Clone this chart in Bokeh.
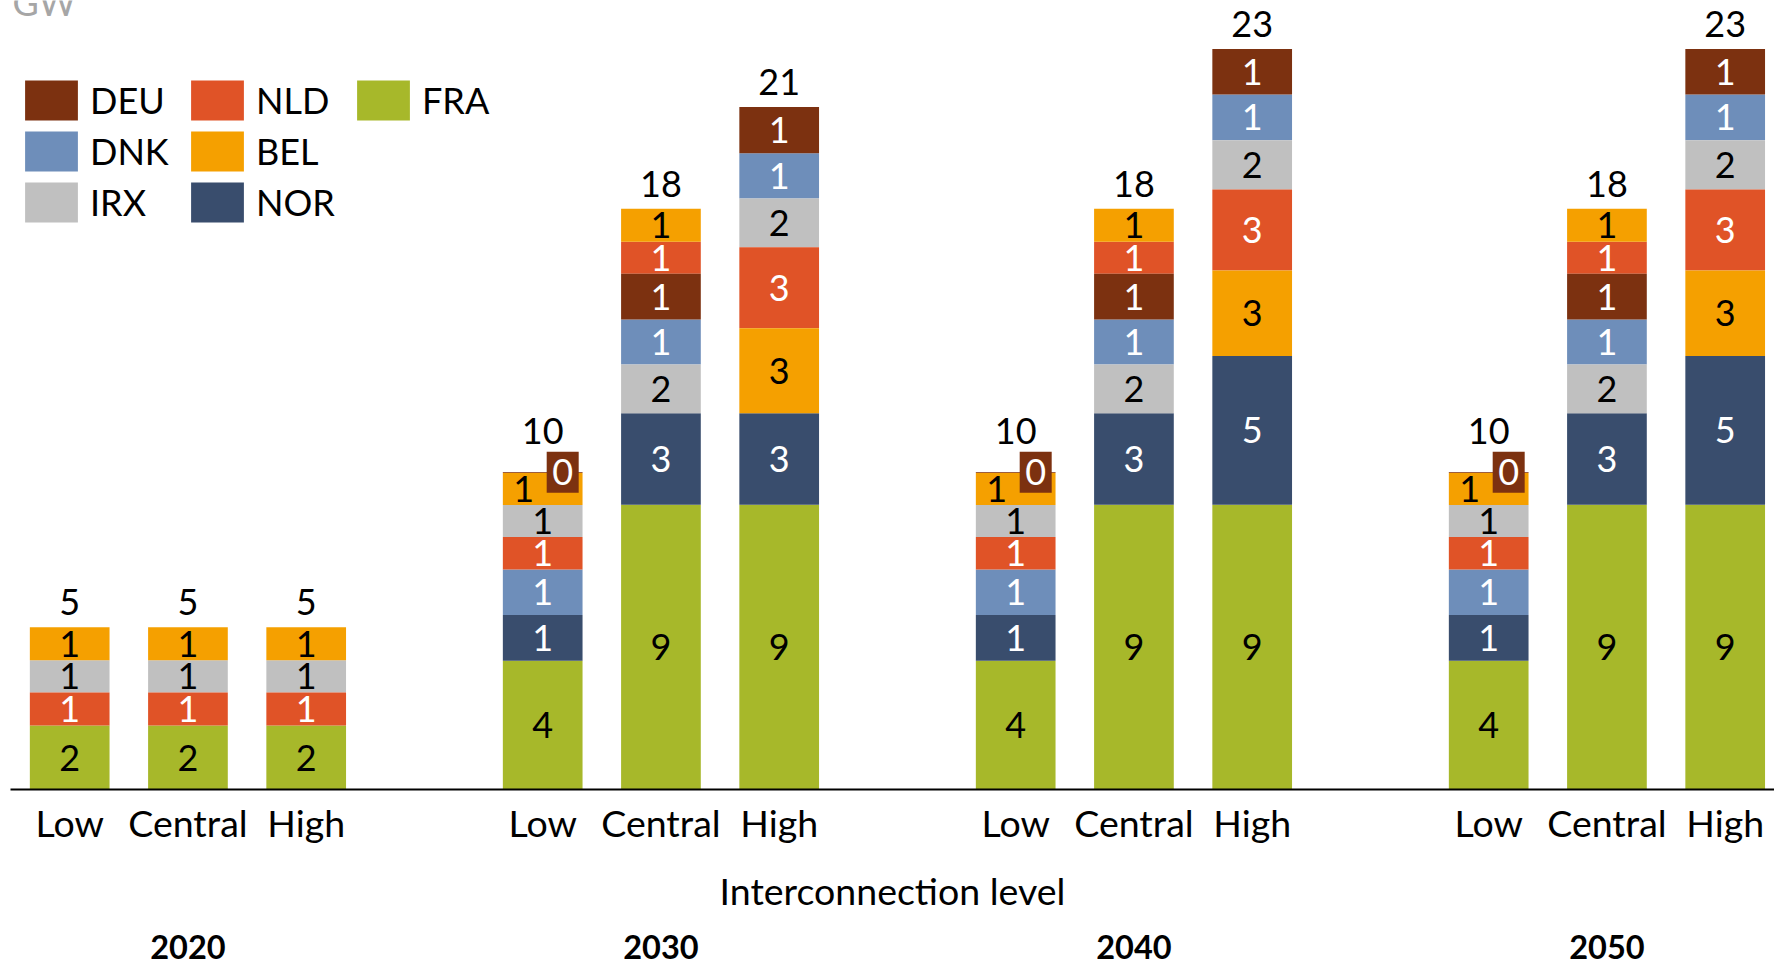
from bokeh.plotting import figure
from bokeh.models import Range1d, FixedTicker, LinearAxis, Legend, LegendItem, ColumnDataSource
from bokeh.core.properties import value
from bokeh.embed import file_html
from bokeh.resources import INLINE

# ---------------- data ----------------
years = ["2020", "2030", "2040", "2050"]
levels = ["Low", "Central", "High"]
legend_order = ["DEU", "DNK", "IRX", "NLD", "BEL", "NOR", "FRA"]

# GW per bar: 2020 L,C,H | 2030 L,C,H | 2040 L,C,H | 2050 L,C,H
FRA = [1.98, 1.98, 1.98, 3.99, 8.82, 8.82, 3.99, 8.82, 8.82, 3.99, 8.82, 8.82]
NOR = [0.00, 0.00, 0.00, 1.41, 2.83, 2.83, 1.41, 2.83, 4.60, 1.41, 2.83, 4.60]
DNK = [0.00, 0.00, 0.00, 1.41, 1.39, 1.40, 1.41, 1.39, 1.42, 1.41, 1.39, 1.42]
IRX = [1.00, 1.00, 1.00, 0.99, 1.51, 1.51, 0.99, 1.51, 1.52, 0.99, 1.51, 1.52]
NLD = [1.02, 1.02, 1.02, 1.01, 0.99, 2.51, 1.01, 0.99, 2.51, 1.01, 0.99, 2.51]
BEL = [1.02, 1.02, 1.02, 1.00, 1.02, 2.63, 1.00, 1.02, 2.65, 1.00, 1.02, 2.65]
DEU = [0.00, 0.00, 0.00, 0.02, 1.42, 1.43, 0.02, 1.42, 1.41, 0.02, 1.42, 1.41]

# stacking order (bottom -> top) used by each bar
ORDER_LOW = ["FRA", "NOR", "DNK", "NLD", "IRX", "BEL", "DEU"]
ORDER_CENTRAL = ["FRA", "NOR", "IRX", "DNK", "DEU", "NLD", "BEL"]
ORDER_HIGH = ["FRA", "NOR", "BEL", "NLD", "IRX", "DNK", "DEU"]
bar_orders = [ORDER_LOW] * 3 + [ORDER_LOW, ORDER_CENTRAL, ORDER_HIGH] * 3

# ---------------- styles ----------------
colors = {"DEU": "#7C3110", "NLD": "#E05327", "FRA": "#A7B82A", "DNK": "#6E8EBA",
          "BEL": "#F5A000", "IRX": "#C0C0C0", "NOR": "#394D6D"}
label_colors = {"DEU": "white", "NLD": "white", "DNK": "white", "NOR": "white",
                "FRA": "black", "IRX": "black", "BEL": "black"}
FONT = "Lato"
PX_PER_SLOT = 118.25
BAR_W = 0.674

values = {"FRA": FRA, "NOR": NOR, "DNK": DNK, "IRX": IRX, "NLD": NLD, "BEL": BEL, "DEU": DEU}
GROUP = len(levels) + 1
xs = [g * GROUP + l for g in range(len(years)) for l in range(len(levels))]
n = len(xs)

bottoms = {c: [0.0] * n for c in values}
totals = [0.0] * n
for i in range(n):
    base = 0.0
    for c in bar_orders[i]:
        bottoms[c][i] = base
        base += values[c][i]
    totals[i] = base

p = figure(width=1774, height=967, output_backend="svg", toolbar_location=None,
           x_range=Range1d(-0.5006, 14.417), y_range=Range1d(0, 24.43),
           y_axis_location=None, min_border_left=10, min_border_right=0,
           min_border_top=0, min_border_bottom=178)
p.outline_line_color = None
p.grid.visible = False

renderers = {}
for c in values:
    src = ColumnDataSource(dict(x=xs, bottom=bottoms[c],
                                top=[b + v for b, v in zip(bottoms[c], values[c])]))
    renderers[c] = p.vbar(x="x", bottom="bottom", top="top", width=BAR_W, source=src,
                          fill_color=colors[c], line_color=None)

# segment labels
lx, ly, lt, lc, lxo = [], [], [], [], []
bx, by = [], []
tot_off = []
for i in range(n):
    order = [c for c in bar_orders[i] if values[c][i] > 0]
    zero_top = int(values[order[-1]][i] + 0.5) == 0
    tot_off.append(-41 if zero_top else -25)
    for k, c in enumerate(order):
        v = values[c][i]
        txt = str(int(v + 0.5))
        xo = -19 if (zero_top and k == len(order) - 2) else 0
        if txt == "0":
            bx.append(xs[i] + 20 / PX_PER_SLOT)
            by.append(bottoms[c][i] + v / 2)
            lx.append(xs[i] + 20 / PX_PER_SLOT)
        else:
            lx.append(xs[i])
        ly.append(bottoms[c][i] + v / 2)
        lt.append(txt)
        lc.append(label_colors[c])
        lxo.append(xo)

p.rect(x=bx, y=by, width=32, height=41, width_units="screen", height_units="screen",
       fill_color=colors["DEU"], line_color=None)
p.text(x="x", y="y", text="t", source=ColumnDataSource(dict(x=lx, y=ly, t=lt, c=lc, xo=lxo)),
       text_color="c", x_offset="xo", text_align="center", text_baseline="middle",
       text_font=value(FONT), text_font_size="36px")

# totals
p.text(x="x", y="y", text="t", y_offset="yo",
       source=ColumnDataSource(dict(x=xs, y=totals, t=[str(int(t + 0.5)) for t in totals],
                                    yo=tot_off)),
       text_align="center", text_baseline="middle", text_color="black",
       text_font=value(FONT), text_font_size="36px")

# unit label (cut off at the top, as in the source)
p.text(x=[p.x_range.start], y=[p.y_range.end], text=["GW"], x_offset=2, y_offset=1,
       text_align="left", text_baseline="alphabetic", text_color="#A6A6A6",
       text_font=value(FONT), text_font_size="36px")

# x axis: levels
ax = p.xaxis[0]
ax.ticker = FixedTicker(ticks=xs)
ax.major_label_overrides = {x: levels[i % len(levels)] for i, x in enumerate(xs)}
ax.major_label_text_font = FONT
ax.major_label_text_font_size = "37.5px"
ax.major_label_text_color = "black"
ax.major_label_standoff = 10
ax.major_tick_line_color = None
ax.minor_tick_line_color = None
ax.major_tick_out = 0
ax.major_tick_in = 0
ax.axis_line_color = "black"
ax.axis_line_width = 2
ax.axis_label = "Interconnection level"
ax.axis_label_text_font = FONT
ax.axis_label_text_font_size = "37.5px"
ax.axis_label_text_font_style = "normal"
ax.axis_label_text_color = "black"
ax.axis_label_standoff = 20

# second axis: years
year_ticks = [g * GROUP + 1 for g in range(len(years))]
yax = LinearAxis(ticker=FixedTicker(ticks=year_ticks),
                 major_label_overrides={t: y for t, y in zip(year_ticks, years)},
                 axis_line_color=None, major_tick_line_color=None, minor_tick_line_color=None,
                 major_tick_out=0, major_tick_in=0, major_label_standoff=19,
                 major_label_text_font=FONT, major_label_text_font_size="32.5px",
                 major_label_text_font_style="bold", major_label_text_color="black")
p.add_layout(yax, "below")

legend = Legend(items=[LegendItem(label=c, renderers=[renderers[c]]) for c in legend_order],
                location=(8, 562), nrows=3, orientation="vertical",
                glyph_width=66, glyph_height=50, label_width=93, label_height=40,
                label_standoff=6, spacing=1, padding=0, margin=0,
                border_line_color=None, background_fill_alpha=0,
                label_text_font=FONT, label_text_font_size="36px", label_text_color="black")
p.add_layout(legend)

open("out.html", "w").write(file_html(p, INLINE))
